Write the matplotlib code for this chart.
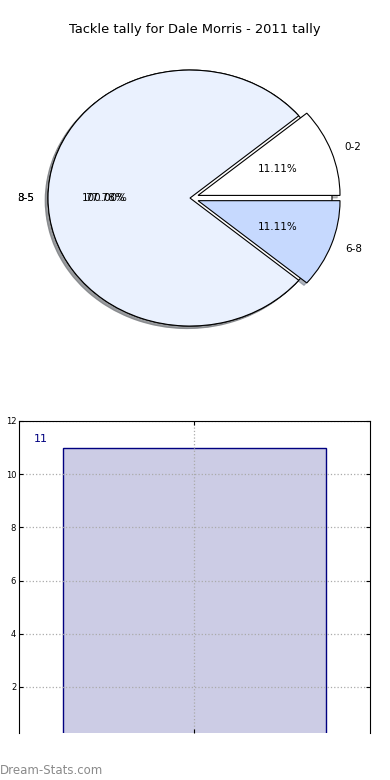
import matplotlib
matplotlib.use('Agg')
import matplotlib.pyplot as plt
import numpy as np

# pie data
pie_labels = ['0-2', '3-5', '6-8']
pie_values = [1, 7, 1]
pie_colors = ['#ffffff', '#eaf1fe', '#c6d9fe']
pie_explode = [0.06, 0, 0.06]
# second (underlying) pie, drawn first
base_labels = ['8-5']
base_values = [9]

# bar data
bar_labels = ['2011']
bar_values = [11]

title = 'Tackle tally for Dale Morris - 2011 tally'

fig = plt.figure(figsize=(3.9, 7.8), dpi=100)

shadow = {'ox': -0.014, 'oy': -0.014, 'shade': 0.5}

# top : pie
ax1 = fig.add_axes([0.0503, 0.5492, 0.8738, 0.3938])
ax1.pie(base_values, labels=base_labels, colors=['#ffffff'], autopct='%.2f%%',
        shadow=shadow, wedgeprops={'edgecolor': 'black', 'linewidth': 0.8},
        textprops={'fontsize': 7.5})
ax1.pie(pie_values, labels=pie_labels, colors=pie_colors, explode=pie_explode,
        autopct='%.2f%%', shadow=shadow,
        wedgeprops={'edgecolor': 'black', 'linewidth': 0.8},
        textprops={'fontsize': 7.5})
ax1.set_aspect('auto')
ax1.set_xlim(-1.2, 1.2)
ax1.set_ylim(-1.2, 1.2)
ax1.axis('off')
fig.text(0.5, 1 - 30/780, title, ha='center', va='center', fontsize=9.4)

# bottom : bar
ax2 = fig.add_axes([0.0487, 0.0603, 0.9, 0.4])
x = np.arange(len(bar_values))
bars = ax2.bar(x, bar_values, width=0.8, color='navy', alpha=0.2)
ax2.bar(x, bar_values, width=0.8, fill=False, edgecolor='navy', linewidth=1)
for b, v in zip(bars, bar_values):
    ax2.text(b.get_x() - 0.065, v * 1.03, '%d' % v, ha='center', va='center',
             color='navy', fontsize=8)
ax2.set_xlim(-0.532, 0.532)
ax2.set_ylim(0.27, 12)
ax2.set_yticks([2, 4, 6, 8, 10, 12])
ax2.set_xticks(x)
ax2.set_xticklabels([])
ax2.tick_params(axis='y', labelsize=6, direction='in', right=True, length=3, pad=2)
ax2.tick_params(axis='x', direction='in', top=True, length=3)
ax2.grid(True, linestyle=':', color='#aaaaaa', linewidth=0.9)
ax2.spines['bottom'].set_visible(False)
ax2.set_ylabel('Tackles Per Game', fontsize=7, fontweight='bold')
ax2.yaxis.set_label_coords(-0.048, 0.5)

fig.text(0.0, 1 - 770/780, 'Dream-Stats.com', ha='left', va='center',
         fontsize=8.5, color='#8a8a8a')

fig.savefig('out.png', dpi=100)
